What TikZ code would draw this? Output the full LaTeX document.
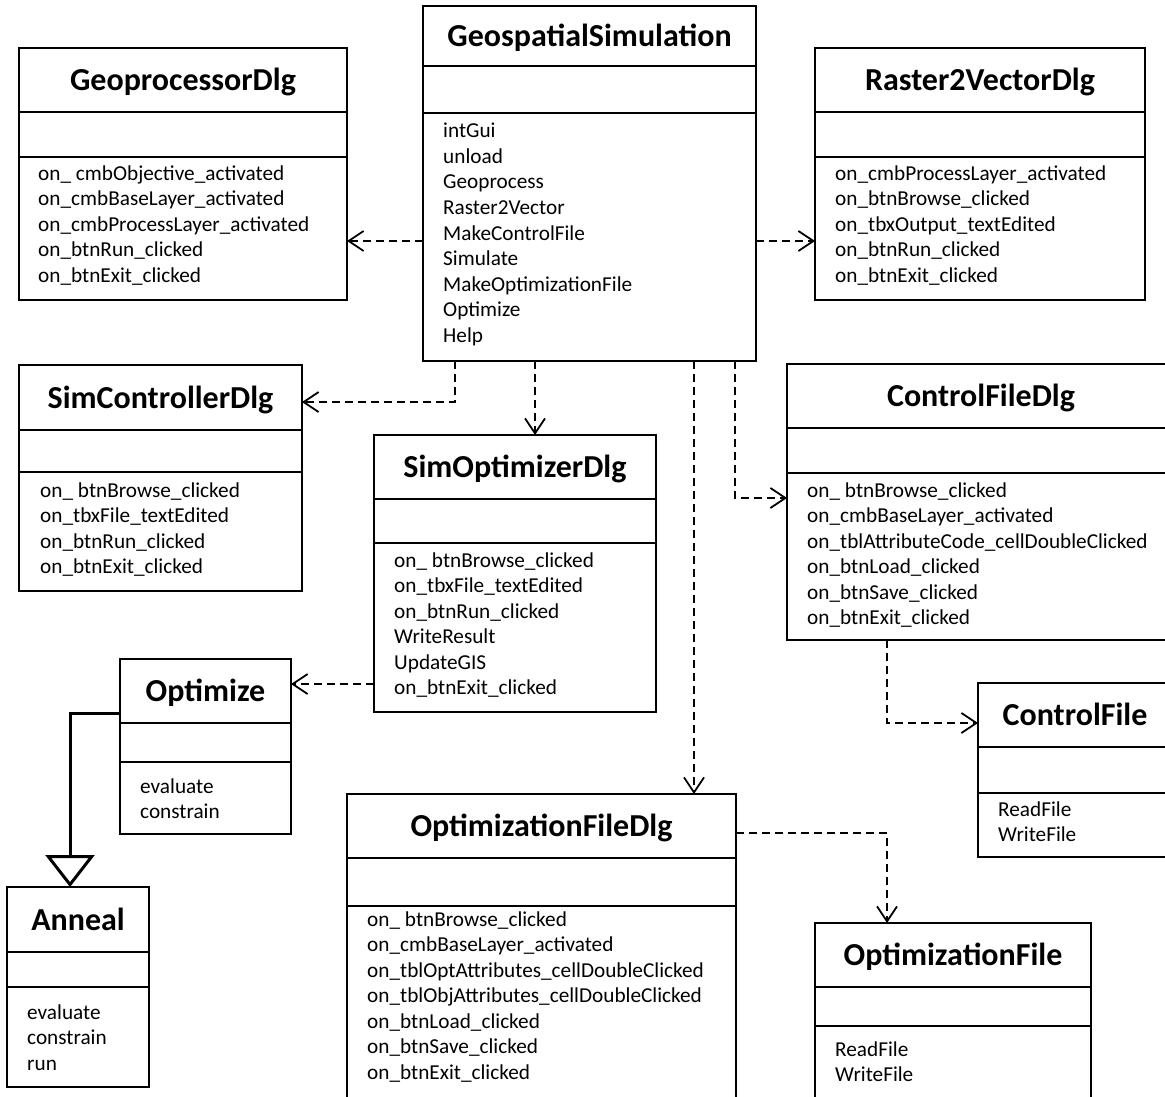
\documentclass[tikz,border=0pt]{standalone}
\usepackage{fontspec}
\setmainfont{Carlito}
\usetikzlibrary{arrows.meta}

\tikzset{
	classbox/.style={draw, line width=2pt, inner sep=0pt, outer sep=0pt},
	classline/.style={line width=2pt},
	classtitle/.style={font=\fontsize{32}{38}\selectfont\bfseries, text height=21pt, text depth=0pt, inner sep=0pt},
	op/.style={anchor=west, font=\fontsize{21.25}{25.5}\selectfont, text height=14pt, text depth=0pt, inner sep=0pt},
	dep/.style={line width=1.8pt, dash pattern=on 8pt off 5pt, -{Straight Barb[length=15pt,width=20pt]}},
	gen/.style={line width=3pt, -{Triangle[open,length=32pt,width=49pt]}}
}

\newcommand{\umlclass}[8]{
	\node[classbox, minimum width={#4-#2}, minimum height={#5-#3}] (#1) at ({(#2+#4)/2},{(#3+#5)/2}) {};
	\node[classtitle] (#1-name) at ({(#2+#4)/2},{(#3+#6)/2}) {#8};
	\draw[classline] (#2,#6) -- (#4,#6) (#2,#7) -- (#4,#7);
}
\newcommand{\umlops}[4]{
	\foreach \opname [count=\i] in {#4}
		\node[op] (#1-op\i) at (#2,{#3+(\i-1)*25.5}) {\opname};
}

\begin{document}
\begin{tikzpicture}[x=1pt, y={(0pt,-1pt)}]
	\useasboundingbox (0,0) rectangle (1165,1097);

	\umlclass{gsim}{423}{6}{756}{361}{66}{113}{GeospatialSimulation}
	\umlops{gsim}{443}{131}{intGui, unload, Geoprocess, Raster2Vector, MakeControlFile, Simulate, MakeOptimizationFile, Optimize, Help}

	\umlclass{gproc}{19}{48}{347}{300}{112}{157}{GeoprocessorDlg}
	\umlops{gproc}{38}{173}{on\_ cmbObjective\_activated, on\_cmbBaseLayer\_activated, on\_cmbProcessLayer\_activated, on\_btnRun\_clicked, on\_btnExit\_clicked}

	\umlclass{rtov}{815}{48}{1145}{300}{112}{157}{Raster2VectorDlg}
	\umlops{rtov}{835}{173}{on\_cmbProcessLayer\_activated, on\_btnBrowse\_clicked, on\_tbxOutput\_textEdited, on\_btnRun\_clicked, on\_btnExit\_clicked}

	\umlclass{simctrl}{19}{365}{302}{591}{430}{472}{SimControllerDlg}
	\umlops{simctrl}{40}{490}{on\_ btnBrowse\_clicked, on\_tbxFile\_textEdited, on\_btnRun\_clicked, on\_btnExit\_clicked}

	\umlclass{simopt}{374}{435}{656}{712}{499}{543}{SimOptimizerDlg}
	\umlops{simopt}{394}{560}{on\_ btnBrowse\_clicked, on\_tbxFile\_textEdited, on\_btnRun\_clicked, WriteResult, UpdateGIS, on\_btnExit\_clicked}

	\umlclass{cfd}{787}{364}{1175}{640}{428}{473}{ControlFileDlg}
	\umlops{cfd}{807}{490}{on\_ btnBrowse\_clicked, on\_cmbBaseLayer\_activated, on\_tblAttributeCode\_cellDoubleClicked, on\_btnLoad\_clicked, on\_btnSave\_clicked, on\_btnExit\_clicked}

	\umlclass{cf}{978}{683}{1172}{857}{747}{793}{ControlFile}
	\umlops{cf}{998}{809}{ReadFile, WriteFile}

	\umlclass{optim}{120}{659}{291}{834}{723}{762}{Optimize}
	\umlops{optim}{140}{786}{evaluate, constrain}

	\umlclass{anneal}{7}{887}{149}{1087}{952}{987}{Anneal}
	\umlops{anneal}{27}{1012}{evaluate, constrain, run}

	\umlclass{ofd}{347}{794}{736}{1105}{858}{906}{OptimizationFileDlg}
	\umlops{ofd}{367}{919}{on\_ btnBrowse\_clicked, on\_cmbBaseLayer\_activated, on\_tblOptAttributes\_cellDoubleClicked, on\_tblObjAttributes\_cellDoubleClicked, on\_btnLoad\_clicked, on\_btnSave\_clicked, on\_btnExit\_clicked}

	\umlclass{of}{815}{923}{1091}{1105}{987}{1026}{OptimizationFile}
	\umlops{of}{835}{1049}{ReadFile, WriteFile}

	\draw[dep] (gsim.west |- 0,241) -- (gproc.east |- 0,241);
	\draw[dep] (gsim.east |- 0,241) -- (rtov.west |- 0,241);
	\draw[dep] (gsim.south -| 455,0) |- (simctrl.east |- 0,402);
	\draw[dep] (gsim.south -| 535,0) -- (simopt.north -| 535,0);
	\draw[dep] (gsim.south -| 694,0) -- (ofd.north -| 694,0);
	\draw[dep] (gsim.south -| 735,0) |- (cfd.west |- 0,498);
	\draw[dep] (cfd.south -| 887,0) |- (cf.west |- 0,723);
	\draw[dep] (ofd.east |- 0,833) -| (of.north -| 887,0);
	\draw[dep] (simopt.west |- 0,684) -- (optim.east |- 0,684);
	\draw[gen] (optim.west |- 0,713) -| (anneal.north -| 70,0);
\end{tikzpicture}
\end{document}
